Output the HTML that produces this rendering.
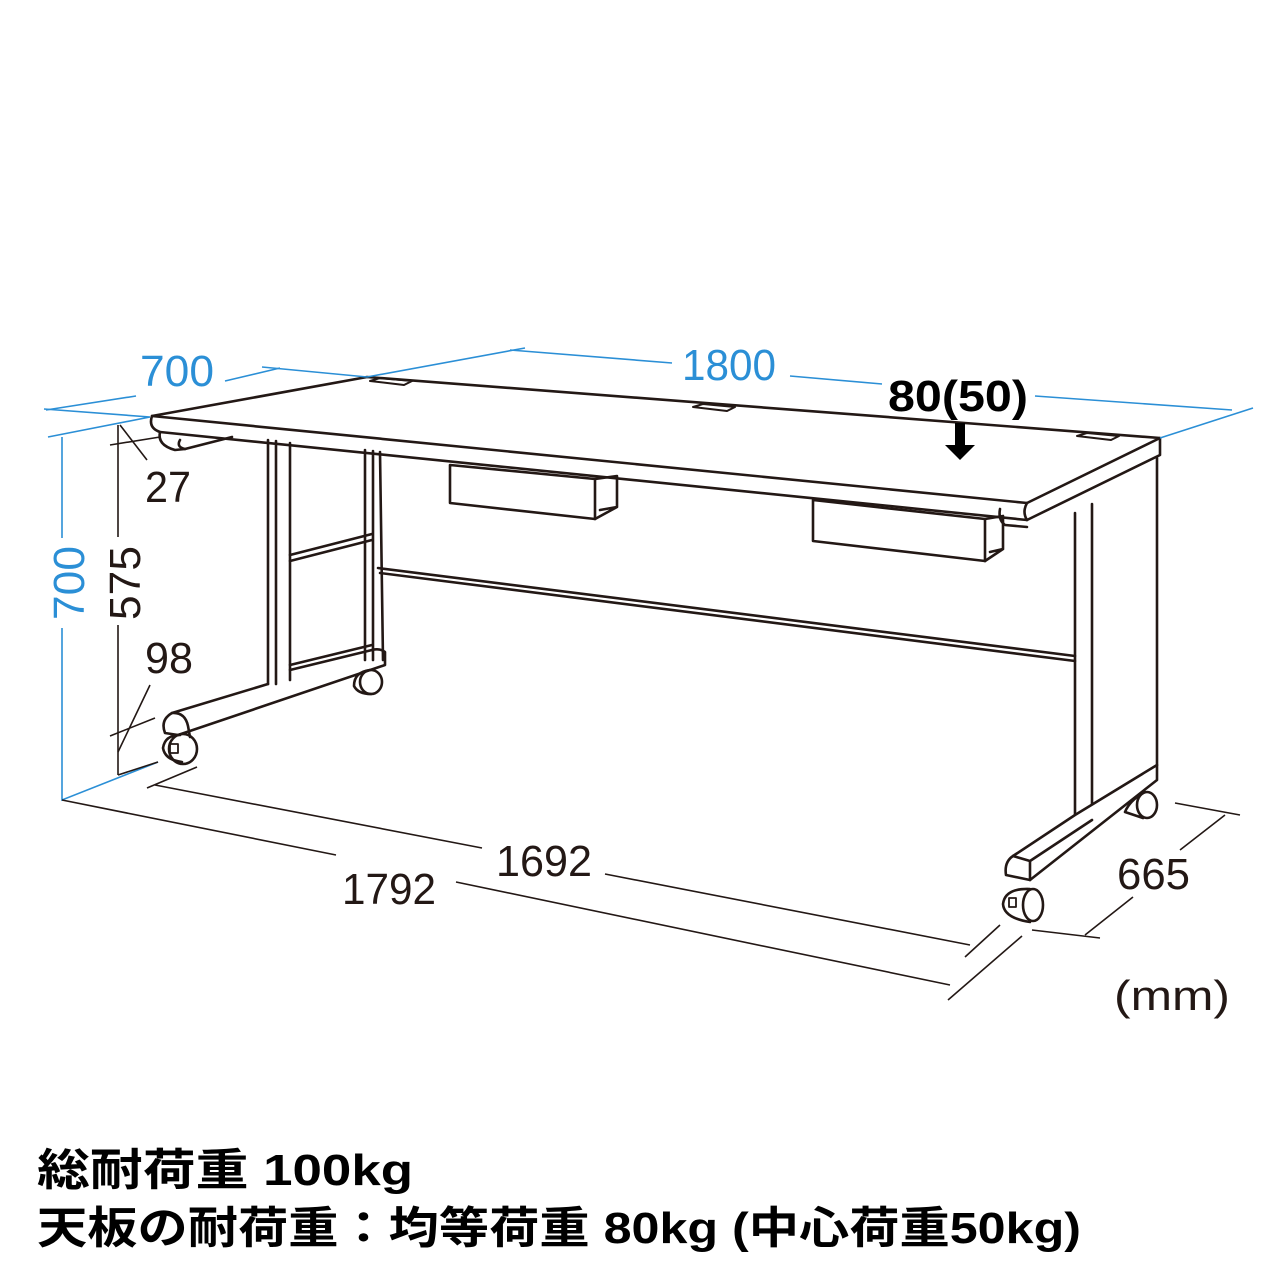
<!DOCTYPE html>
<html><head><meta charset="utf-8"><style>
html,body{margin:0;padding:0;background:#fff;width:1280px;height:1280px;overflow:hidden}
svg{display:block}
</style></head><body>
<svg width="1280" height="1280" viewBox="0 0 1280 1280" xmlns="http://www.w3.org/2000/svg">
<g fill="none" stroke="#231815" stroke-width="2.6" stroke-linejoin="round" stroke-linecap="round">
<!-- desktop -->
<path d="M152,416 L367,377 L1160,438 L1027,503 Z" fill="#fff"/>
<path d="M152,416 Q148,428 160,432 L1027,520 L1160,455 L1160,438"/>
<path d="M1027,503 Q1022,512 1027,520"/>
<!-- grommets -->
<path d="M370,381 L380,378 L412,381 L404,385 Z" stroke-width="2"/>
<path d="M693,407 L703,404 L735,407 L727,411 Z" stroke-width="2"/>
<path d="M1077,436 L1087,433 L1119,436 L1111,440 Z" stroke-width="2"/>
<!-- left bracket under top -->
<path d="M160,432 Q157,445 175,450 L185,449 L232,437"/>
<path d="M180,440 Q176,447 185,449"/>
<!-- left leg -->
<path d="M268,440 L268,684 M276,441 L276,684 M290,443 L290,680"/>
<path d="M365,450 L365,660 M373,451 L373,660 M380,452 L383,660"/>
<path d="M290,555 L372,534 M290,561 L372,540"/>
<path d="M290,665 L372,645 M290,670 L372,650"/>
<path d="M268,684 L172,713 Q160,720 165,733 L178,735 L385,665 L385,652 Q380,648 372,650"/>
<path d="M172,713 Q185,712 188,726 L190,737"/>
<ellipse cx="183" cy="749" rx="14" ry="15"/>
<path d="M180,735 Q165,735 163,748 Q165,760 182,762"/>
<rect x="170" y="744" width="8" height="9" stroke-width="1.8"/>
<ellipse cx="371" cy="682" rx="11" ry="12"/>
<path d="M370,670 Q354,672 354,686 Q358,694 371,694"/>
<!-- stretcher -->
<path d="M378,568 L1075,656 M380,573 L1075,661"/>
<!-- trays -->
<path d="M450,465 L595,479 L595,519 L450,503 Z" fill="#fff"/>
<path d="M595,479 L617,476 L617,507 L595,519 M600,510 L617,507"/>
<path d="M813,500 L985,519 L985,561 L813,541 Z" fill="#fff"/>
<path d="M985,519 L1003,516 L1003,549 L985,561 M990,552 L1003,549"/>
<!-- right bracket -->
<path d="M1000,509 Q998,520 1005,525 L1027,527"/>
<!-- right leg -->
<path d="M1075,513 L1075,815 M1092,504 L1092,820 M1157,458 L1157,765"/>
<path d="M1075,815 L1013,856 Q1004,862 1006,875 L1030,880 L1157,780 L1157,765 Z" fill="#fff"/>
<path d="M1013,856 L1030,861 L1030,880 M1030,861 L1092,820"/>
<ellipse cx="1033" cy="905" rx="10" ry="16"/>
<path d="M1030,889 Q1005,888 1003,904 Q1004,918 1030,922"/>
<rect x="1009" y="898" width="7" height="9" stroke-width="1.8"/>
<ellipse cx="1147" cy="805" rx="10" ry="13"/>
<path d="M1145,792 Q1130,800 1125,812 L1143,818"/>
</g>
<!-- arrow -->
<path d="M955,423 L965,423 L965,445 L975,445 L960,460 L945,445 L955,445 Z" fill="#000"/>
<!-- blue dims -->
<g stroke="#2b8fd6" stroke-width="1.6" fill="none">
<path d="M46,410 L136,396 M225,381 L280,368"/>
<path d="M44,409 L150,417 M48,437 L150,417"/>
<path d="M262,367 L367,377 L525,348"/>
<path d="M510,350 L672,363 M790,376 L882,384 M1035,396 L1232,410"/>
<path d="M1160,438 L1253,408"/>
<path d="M62,437 L62,538 M62,628 L62,800 L158,762"/>
</g>
<!-- black dims -->
<g stroke="#231815" stroke-width="1.6" fill="none">
<path d="M118,425 L118,537 M118,625 L118,775"/>
<path d="M110,445 L160,437 M120,425 L147,460"/>
<path d="M110,736 L155,718 M118,752 L150,685"/>
<path d="M118,775 L158,762"/>
<path d="M147,788 L197,767"/>
<path d="M155,785 L482,848 M605,874 L970,945"/>
<path d="M965,957 L1000,925"/>
<path d="M62,800 L336,855 M456,882 L950,985"/>
<path d="M948,1000 L1022,936"/>
<path d="M1175,803 L1240,815 M1032,930 L1100,938"/>
<path d="M1085,935 L1133,897 M1180,850 L1225,815"/>
</g>
<g font-family="Liberation Sans, sans-serif">
<text x="140" y="386" font-size="44" fill="#2b8fd6" textLength="74" lengthAdjust="spacingAndGlyphs">700</text>
<text x="682" y="380" font-size="44" fill="#2b8fd6" textLength="94" lengthAdjust="spacingAndGlyphs">1800</text>
<text x="888" y="411" font-size="44" fill="#000" textLength="140" lengthAdjust="spacingAndGlyphs" font-weight="bold">80(50)</text>
<text transform="translate(84,620) rotate(-90)" font-size="44" fill="#2b8fd6" textLength="74" lengthAdjust="spacingAndGlyphs">700</text>
<text transform="translate(140,620) rotate(-90)" font-size="44" fill="#231815" textLength="74" lengthAdjust="spacingAndGlyphs">575</text>
<text x="145" y="502" font-size="44" fill="#231815" textLength="46" lengthAdjust="spacingAndGlyphs">27</text>
<text x="145" y="673" font-size="44" fill="#231815" textLength="48" lengthAdjust="spacingAndGlyphs">98</text>
<text x="496" y="876" font-size="44" fill="#231815" textLength="96" lengthAdjust="spacingAndGlyphs">1692</text>
<text x="342" y="904" font-size="44" fill="#231815" textLength="94" lengthAdjust="spacingAndGlyphs">1792</text>
<text x="1117" y="889" font-size="44" fill="#231815" textLength="73" lengthAdjust="spacingAndGlyphs">665</text>
<text x="1114" y="1010" font-size="42" fill="#231815" textLength="116" lengthAdjust="spacingAndGlyphs">(mm)</text>
</g>
<g font-family="Liberation Sans, Noto Sans CJK JP, sans-serif" font-weight="bold" font-size="44" fill="#000">
<text x="37" y="1185" textLength="376" lengthAdjust="spacingAndGlyphs">総耐荷重 100kg</text>
<text x="37" y="1243" textLength="1044" lengthAdjust="spacingAndGlyphs">天板の耐荷重：均等荷重 80kg (中心荷重50kg)</text>
</g>
</svg>
</body></html>
